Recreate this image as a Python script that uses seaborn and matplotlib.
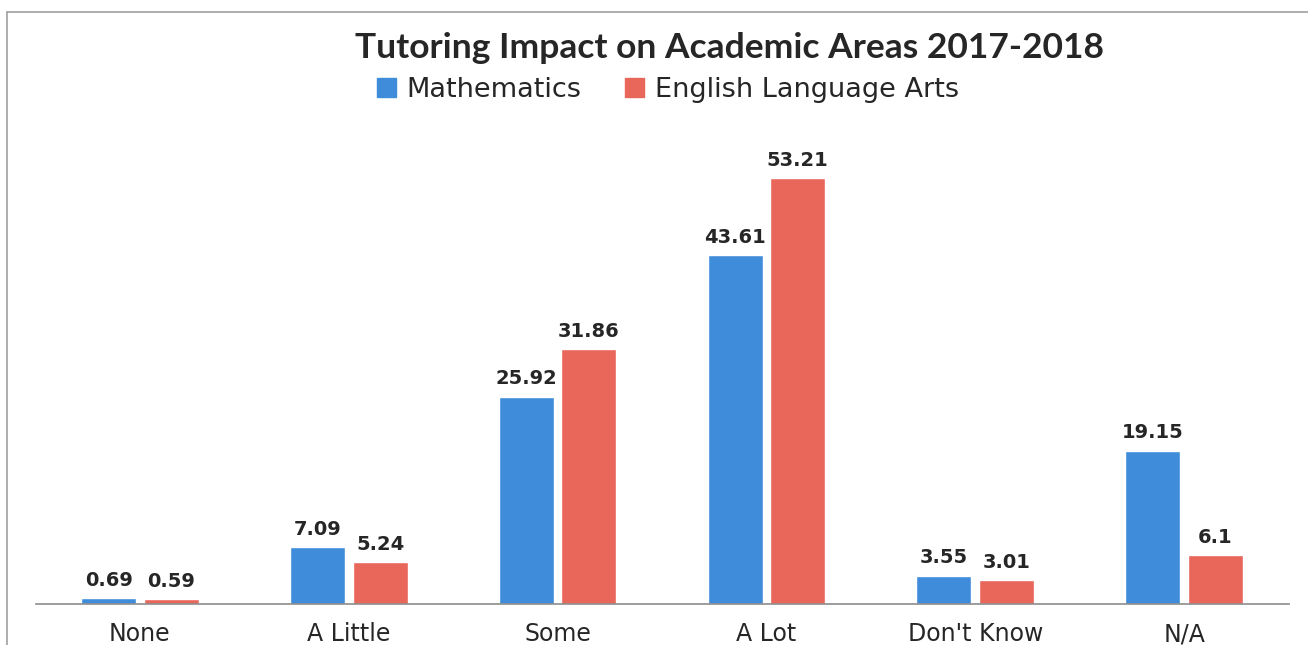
import pandas as pd
import seaborn as sns
import matplotlib.pyplot as plt
from matplotlib.lines import Line2D

categories = ["None", "A Little", "Some", "A Lot", "Don't Know", "N/A"]
series = ["Mathematics", "English Language Arts"]
math_vals = [0.69, 7.09, 25.92, 43.61, 3.55, 19.15]
ela_vals = [0.59, 5.24, 31.86, 53.21, 3.01, 6.1]
ela_labels = ["0.59", "5.24", "31.86", "53.21", "3.01", "6.1"]
math_labels = ["0.69", "7.09", "25.92", "43.61", "3.55", "19.15"]

df = pd.DataFrame({
    "category": categories * 2,
    "area": [series[0]] * len(categories) + [series[1]] * len(categories),
    "value": math_vals + ela_vals,
})

sns.set_style("white")
plt.rcParams['font.family'] = ['DejaVu Sans']

fig = plt.figure(figsize=(13.08, 6.45), dpi=100)
ax = fig.add_axes([35.5 / 1308, 41 / 645, 1253 / 1308, 480 / 645])

colors = {"Mathematics": "#3F8CDA", "English Language Arts": "#E8675A"}
sns.barplot(data=df, x="category", y="value", hue="area", order=categories,
            hue_order=series, palette=colors, width=0.6, gap=0.12,
            saturation=1, ax=ax, legend=False)

for cont, labs in zip(ax.containers, [math_labels, ela_labels]):
    ax.bar_label(cont, labels=labs, padding=6, fontsize=14, fontweight='bold',
                 color="#262626")

ax.set_xlim(-0.5, 5.5)
ax.set_ylim(0, 60)
ax.set_xlabel("")
ax.set_ylabel("")
ax.set_yticks([])
for s in ["top", "right", "left"]:
    ax.spines[s].set_visible(False)
ax.spines["bottom"].set_color("#8c8c8c")
ax.spines["bottom"].set_linewidth(1.2)
ax.tick_params(axis='x', length=0, pad=13, labelsize=17, labelcolor="#262626")

fig.text(729 / 1308, 1 - 48 / 645, "Tutoring Impact on Academic Areas 2017-2018",
         ha='center', va='center', fontsize=25.5, fontweight='bold',
         family=['Lato', 'DejaVu Sans'], color="#262626")

handles = [plt.Rectangle((0, 0), 1, 1, color=colors[s]) for s in series]
fig.legend(handles, series, loc='center', bbox_to_anchor=(668 / 1308, 1 - 90 / 645),
           ncol=2, frameon=False, fontsize=19.5, handlelength=0.7, handleheight=0.7,
           columnspacing=1.6, handletextpad=0.4, labelcolor="#262626")

# chart frame (top and left edges)
fig.add_artist(Line2D([7 / 1308, 1], [1 - 12 / 645, 1 - 12 / 645], transform=fig.transFigure,
                      color="#a0a0a0", lw=1.2))
fig.add_artist(Line2D([7 / 1308, 7 / 1308], [0, 1 - 12 / 645], transform=fig.transFigure,
                      color="#a0a0a0", lw=1.2))

fig.savefig("out.png", dpi=100)
